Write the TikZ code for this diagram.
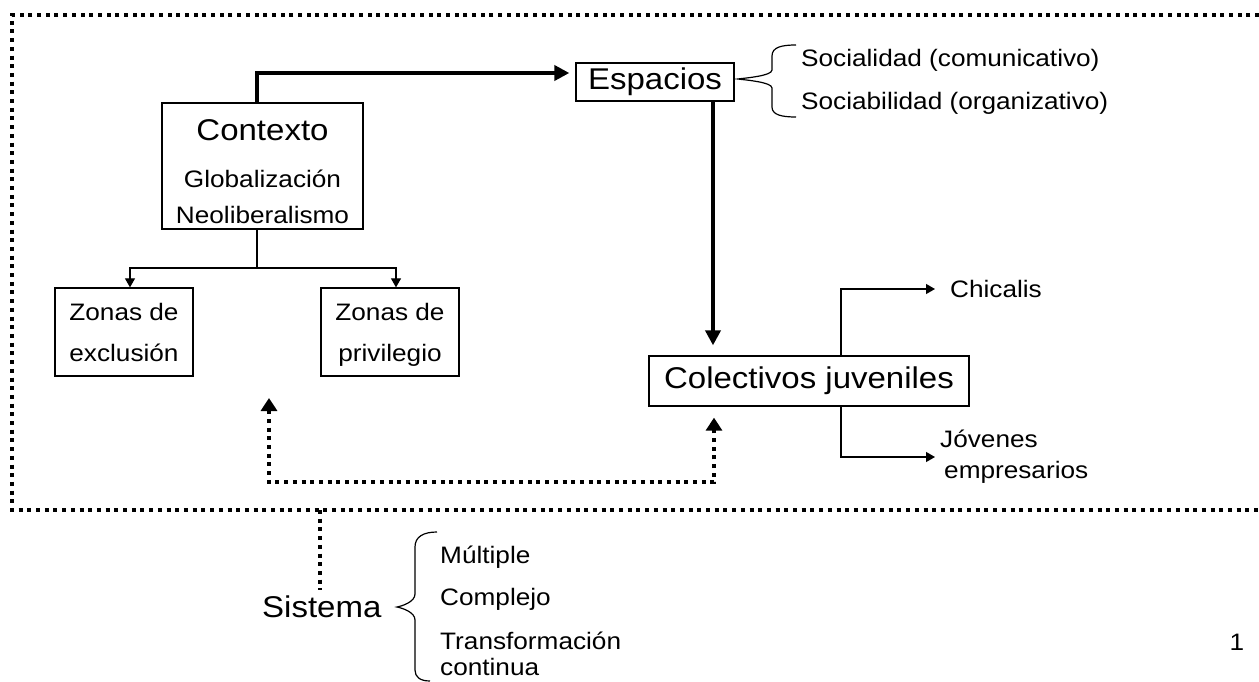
\documentclass[tikz,border=0pt]{standalone}
\usepackage{fontspec}
\setmainfont{Liberation Sans}[FakeStretch=1.1]
\usetikzlibrary{arrows.meta,calc}
\newcommand\fbig{\fontsize{30}{36}\selectfont}
\newcommand\fsmall{\fontsize{23.8}{41}\selectfont}
\begin{document}
\begin{tikzpicture}[x=1pt,y=-1pt,
  box/.style={draw, line width=1.3pt, inner sep=0pt},
  txt/.style={inner sep=0pt},
  thinline/.style={line width=1.2pt},
  thinarrow/.style={line width=1.2pt, -{Triangle[length=9pt,width=10pt]}},
  thickarrow/.style={line width=4.5pt, -{Triangle[length=15pt,width=15pt]}},
  dotline/.style={line width=4.5pt, dash pattern=on 4pt off 4.7pt},
  dotarrow/.style={dotline, {Triangle[length=13pt,width=16pt]}-{Triangle[length=13pt,width=16pt]}},
  bracestyle/.style={line width=1.2pt}]
\useasboundingbox (0,0) rectangle (1259,682);
% outer dotted frame (open on the right)
\draw[dotline] (1259,15) -- (12,15) -- (12,510) -- (1259,510);
% Contexto
\node[box, minimum width=201pt, minimum height=126pt] (ctx) at (262.5,166) {};
\node[txt, font=\fbig, anchor=base] (ctxt) at (262.5,141) {Contexto};
\node[txt, font=\fsmall, anchor=base] (glob) at (262.5,187) {Globalización};
\node[txt, font=\fsmall, anchor=base] (neo) at (262.5,223) {Neoliberalismo};
% Espacios
\node[box, minimum width=158pt, minimum height=38pt, font=\fbig] (esp) at (655,82) {Espacios};
\node[txt, font=\fsmall, anchor=base west] (soc1) at (801,67) {Socialidad (comunicativo)};
\node[txt, font=\fsmall, anchor=base west] (soc2) at (801,110) {Sociabilidad (organizativo)};
\draw[bracestyle] (796,45) .. controls (782,45) and (772,47) .. (772,56) -- (772,70)
  .. controls (772,76) and (745,78) .. (738,79)
  .. controls (745,80) and (772,82) .. (772,88) -- (772,107)
  .. controls (772,115) and (782,117) .. (796,117);
% Colectivos
\node[box, minimum width=320pt, minimum height=50pt, font=\fbig] (col) at (809,381) {Colectivos juveniles};
\node[txt, font=\fsmall, anchor=west, inner xsep=0pt] (chic) at (950,289) {Chicalis};
\node[txt, font=\fontsize{23.8}{31}\selectfont, align=left, anchor=west, inner xsep=5pt] (jov) at (935,457) {Jóvenes\\\hspace*{4pt}empresarios};
% Zonas
\node[box, minimum width=138pt, minimum height=88pt, font=\fsmall, align=center, text depth=0pt] (zex) at (124,332) {Zonas de\\exclusión};
\node[box, minimum width=138pt, minimum height=88pt, font=\fsmall, align=center, text depth=0pt] (zpr) at (390,332) {Zonas de\\privilegio};
% Sistema
\node[txt, font=\fbig, anchor=base west] (sis) at (262,617) {Sistema};
\node[txt, font=\fsmall, anchor=base west] (mul) at (440,563) {Múltiple};
\node[txt, font=\fsmall, anchor=base west] (com) at (440,605) {Complejo};
\node[txt, font=\fontsize{23.8}{26}\selectfont, anchor=base west, align=left] (tra) at (440,675) {Transformación\\continua};
\draw[bracestyle] (437,532) .. controls (423,532) and (415,537) .. (415,547) -- (415,594)
  .. controls (415,602) and (402,606) .. (397,607)
  .. controls (402,608) and (415,612) .. (415,620) -- (415,670)
  .. controls (415,677) and (420,681) .. (430,681);
\node[txt, font=\fsmall, anchor=base] (pg) at (1237,650) {1};
% coordinates
\coordinate (ca) at (257,73);
\coordinate (cb) at (713,0);
\coordinate (cx) at (841,0);
\coordinate (split) at (257,268);
\coordinate (zl) at (130,0);
\coordinate (zr) at (396,0);
\coordinate (dz) at (269,398);
\coordinate (dl) at (269,482);
\coordinate (cd) at (714,0);
\coordinate (bsis) at (320,510);
% connectors
\draw[thickarrow, shorten >=6pt] (ctx.north -| ca) -- (ca) -- (ca -| esp.west);
\draw[thickarrow, shorten >=10pt] (esp.south -| cb) -- (col.north -| cb);
\draw[thinline] (ctx.south -| split) -- (split);
\draw[thinarrow] (split) -| (zl |- zex.north);
\draw[thinarrow] (split) -| (zr |- zpr.north);
\draw[thinarrow, shorten >=15pt] (col.north -| cx) |- (chic.west);
\draw[thinarrow] (col.south -| cx) |- (jov.west);
\draw[dotarrow, shorten >=11pt] (dz) -- (dl) -| (cd |- col.south);
\draw[dotline] (bsis) -- (320,590);
\end{tikzpicture}
\end{document}
